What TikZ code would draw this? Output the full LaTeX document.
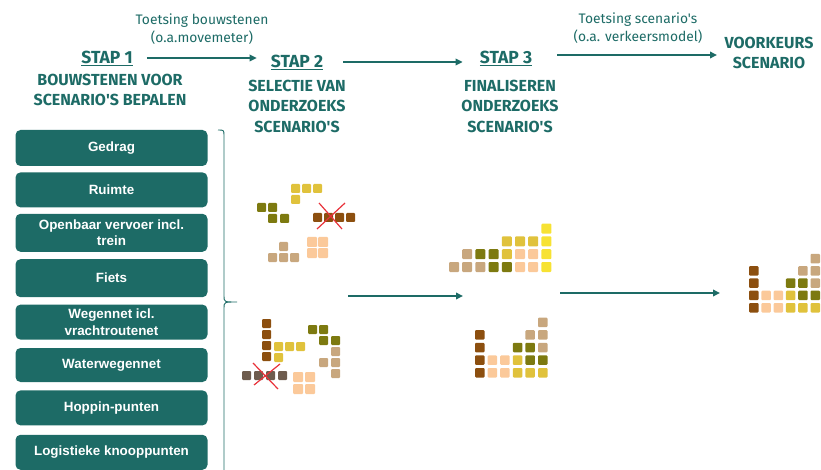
\documentclass[tikz,border=0pt]{standalone}
\usepackage{fontspec}
\newfontfamily\headfont{Fira Sans}
\newfontfamily\boxfont{Liberation Sans}
\usetikzlibrary{positioning, arrows.meta}
\definecolor{vlteal}{RGB}{29,107,102}
\definecolor{blkgold}{RGB}{224,194,60}
\definecolor{blkyellow}{RGB}{247,226,51}
\definecolor{blkolive}{RGB}{125,122,16}
\definecolor{blkbrown}{RGB}{140,79,15}
\definecolor{blktan}{RGB}{200,167,126}
\definecolor{blkpeach}{RGB}{251,201,154}
\definecolor{blkgray}{RGB}{110,92,78}
\definecolor{crossred}{RGB}{232,50,58}
% one coloured block: colour, left, top, size
\newcommand{\blk}[4]{\fill[#1, rounded corners=1pt] (#2,#3) rectangle ++(#4,#4);}

\begin{document}
\begin{tikzpicture}[
  x=1pt, y=-1pt,
  box/.style={fill=vlteal, rounded corners=5pt, minimum width=192pt, minimum height=35pt,
              inner sep=2pt, align=center, text=white,
              font=\boxfont\bfseries\fontsize{13.4}{16.5}\selectfont},
  head/.style={text=vlteal, align=center, inner sep=0pt,
               font=\headfont\bfseries\fontsize{16}{20.5}\selectfont},
  stap/.style={text=vlteal, inner sep=0pt, font=\headfont\bfseries\fontsize{17.5}{20}\selectfont},
  note/.style={text=vlteal, align=center, inner sep=0pt, font=\headfont\fontsize{13.8}{18}\selectfont},
  arr/.style={-{Triangle[length=7pt, width=6.5pt]}, line width=2.5pt, vlteal},
  cross/.style={crossred, line width=1.2pt},
]
  \useasboundingbox (0,0) rectangle (821,470);

  % steps
  \node[stap] (stap1) at (107,58) {\underline{STAP 1}};
  \node[head] (desc1) at (110,90) {BOUWSTENEN VOOR\\SCENARIO'S BEPALEN};
  \node[stap] (stap2) at (297,62) {\underline{STAP 2}};
  \node[head] (desc2) at (297,106) {SELECTIE VAN\\ONDERZOEKS\\SCENARIO'S};
  \node[stap] (stap3) at (506,58) {\underline{STAP 3}};
  \node[head] (desc3) at (510,106) {FINALISEREN\\ONDERZOEKS\\SCENARIO'S};
  \node[head] (pref) at (769,53) {VOORKEURS\\SCENARIO};

  \node[note] (toets1) at (202,29) {Toetsing bouwstenen\\(o.a.movemeter)};
  \node[note] (toets2) at (638,28) {Toetsing scenario's\\(o.a. verkeersmodel)};

  \draw[arr, shorten <=14pt, shorten >=14pt] (stap1.east) -- (stap1.east -| stap2.west);
  \draw[arr, shorten <=20pt, shorten >=17pt] (stap2.east) -- (stap2.east -| stap3.west);
  \coordinate (a3s) at (557,55);
  \coordinate (a3e) at (717,55);
  \draw[arr] (a3s) -- (a3e);

  % building blocks
  \node[box, minimum height=36pt] (gedrag) at (111.5,148) {Gedrag};
  \node[box, below=6pt of gedrag] (ruimte) {Ruimte};
  \node[box, minimum height=38pt, below=6pt of ruimte] (ov) {Openbaar vervoer incl.\\trein};
  \node[box, minimum height=38pt, below=7pt of ov] (fiets) {Fiets};
  \node[box, below=7pt of fiets] (weg) {Wegennet icl.\\vrachtroutenet};
  \node[box, minimum height=34pt, below=8pt of weg] (water) {Waterwegennet};
  \node[box, below=8pt of water] (hoppin) {Hoppin-punten};
  \node[box, below=9pt of hoppin] (logistiek) {Logistieke knooppunten};

  % brace
  \draw[vlteal, line width=0.9pt]
    (218,130) .. controls (224,130) .. (224,136) -- (224,296)
    .. controls (224,302) .. (237,302)
    (237,302) .. controls (224,302) .. (224,308) -- (224,472);

  % step 2: first candidate
  \foreach \x/\y in {291/184, 302/184, 313/184, 291/195} \blk{blkgold}{\x}{\y}{9};
  \foreach \x/\y in {257/203, 268/203, 268/214, 280/214} \blk{blkolive}{\x}{\y}{9};
  \foreach \x/\y in {313/213, 324/213, 335/213, 346/213} \blk{blkbrown}{\x}{\y}{9};
  \foreach \x/\y in {279/242, 268/253, 279/253, 290/253} \blk{blktan}{\x}{\y}{9};
  \foreach \x/\y in {307/237, 318/237, 307/248, 318/248} \blk{blkpeach}{\x}{\y}{10};
  \draw[cross] (319,203) -- (342,229) (345,203) -- (317,229);

  % step 2: second candidate
  \foreach \x/\y in {262/319, 262/330, 262/341, 262/352} \blk{blkbrown}{\x}{\y}{9};
  \foreach \x/\y in {274/342, 285/342, 296/342, 274/353} \blk{blkgold}{\x}{\y}{9};
  \foreach \x/\y in {242/371, 254/371, 266/371, 278/371} \blk{blkgray}{\x}{\y}{9};
  \foreach \x/\y in {293/372, 305/372, 293/384, 305/384} \blk{blkpeach}{\x}{\y}{10};
  \foreach \x/\y in {308/325, 319/325, 319/336, 331/336} \blk{blkolive}{\x}{\y}{9};
  \foreach \x/\y in {331/347, 331/358, 331/369, 319/358} \blk{blktan}{\x}{\y}{9};
  \draw[cross] (253,363) -- (278,389) (280,364) -- (254,385);

  % step 3: first scenario
  \foreach \c/\r/\col in {0/0/blktan, 1/0/blktan, 2/0/blktan, 1/1/blktan,
      3/0/blkolive, 4/0/blkolive, 2/1/blkolive, 3/1/blkolive,
      5/0/blkpeach, 6/0/blkpeach, 5/1/blkpeach, 6/1/blkpeach,
      7/0/blkyellow, 7/1/blkyellow, 7/2/blkyellow, 7/3/blkyellow,
      4/1/blkgold, 4/2/blkgold, 5/2/blkgold, 6/2/blkgold}
    \blk{\col}{449+\c*13.2}{262-\r*12.8}{10};

  % step 3: second scenario and preferred scenario
  \foreach \ox/\oy/\p in {475/368/12.6, 749/303/12.3}
    \foreach \c/\r/\col in {0/0/blkbrown, 0/1/blkbrown, 0/2/blkbrown, 0/3/blkbrown,
        1/0/blkpeach, 1/1/blkpeach, 2/0/blkpeach, 2/1/blkpeach,
        3/0/blkgold, 3/1/blkgold, 4/0/blkgold, 5/0/blkgold,
        3/2/blkolive, 4/1/blkolive, 4/2/blkolive, 5/1/blkolive,
        4/3/blktan, 5/2/blktan, 5/3/blktan, 5/4/blktan}
      \blk{\col}{\ox+\c*\p}{\oy-\r*\p}{9.5};

  % lower arrows
  \coordinate (a4s) at (348,296);
  \coordinate (a4e) at (463,296);
  \coordinate (a5s) at (560,293);
  \coordinate (a5e) at (720,293);
  \draw[arr] (a4s) -- (a4e);
  \draw[arr] (a5s) -- (a5e);
\end{tikzpicture}
\end{document}
